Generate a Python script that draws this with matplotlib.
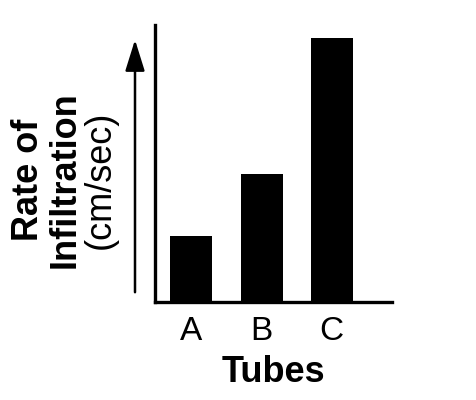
import numpy as np
import matplotlib.pyplot as plt

plt.rcParams['font.family'] = ['Liberation Sans', 'DejaVu Sans']

# Datos (unidades arbitrarias)
tubos = ['A', 'B', 'C']
tasa = [1.0, 1.93, 4.0]

fig = plt.figure(figsize=(4.76, 4.0), dpi=100)
ax = fig.add_axes([155/476, 98/400, 237/476, 277/400])

x = np.arange(len(tubos))
ax.bar(x, tasa, width=0.6, color='black')

ax.set_xlim(-0.52, 2.86)
ax.set_ylim(0, 4.19)

for s in ['top', 'right']:
    ax.spines[s].set_visible(False)
ax.spines['left'].set_linewidth(2.4)
ax.spines['bottom'].set_linewidth(2.4)
ax.set_yticks([])
ax.set_xticks(x)
ax.set_xticklabels(tubos, fontsize=24)
ax.tick_params(axis='x', length=0, pad=10)

ax.set_xlabel('Tubes', fontsize=26, fontweight='bold', labelpad=6)

#   Flecha del eje y
fig.patches.append(plt.matplotlib.patches.FancyArrowPatch(
    (135/476, 1 - 295/400), (135/476, 1 - 37/400),
    transform=fig.transFigure, arrowstyle='-|>,head_length=1.6,head_width=0.5',
    mutation_scale=12, lw=1.8, color='black'))

#   Etiqueta del eje y
fig.text(28/476, 1 - 180/400, 'Rate of', rotation=90, fontsize=26,
         fontweight='bold', ha='center', va='center')
fig.text(65/476, 1 - 180/400, 'Infiltration', rotation=90, fontsize=26,
         fontweight='bold', ha='center', va='center')
fig.text(100/476, 1 - 180/400, '(cm/sec)', rotation=90, fontsize=26,
         ha='center', va='center')

plt.savefig('out.png', dpi=100)
